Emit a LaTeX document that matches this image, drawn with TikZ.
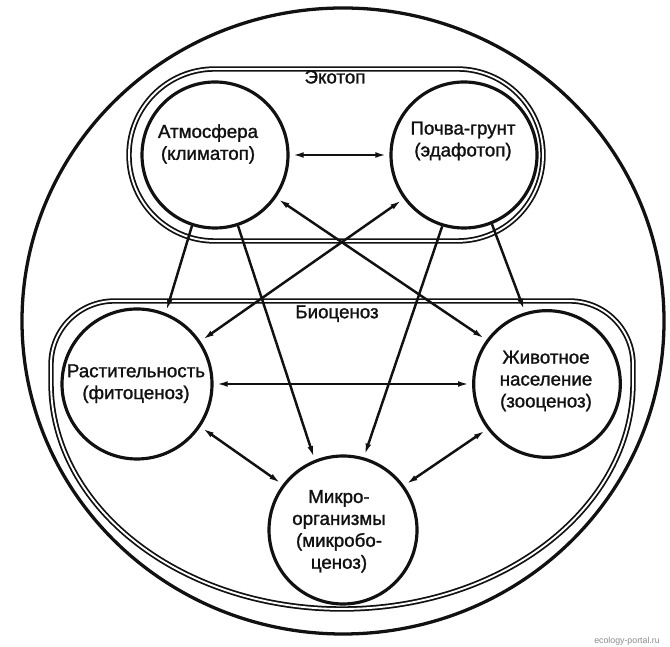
\documentclass[tikz,border=0pt]{standalone}
\usepackage{fontspec}
\setmainfont{Liberation Sans}
\newfontfamily\scanfont{Liberation Sans}[FakeBold=1.3]
\usepackage{tikz}
\usetikzlibrary{arrows.meta}
\definecolor{ink}{HTML}{111111}
\definecolor{stampgray}{HTML}{8A8A8A}
\tikzset{
  >={Latex[length=4.2mm,width=1.6mm]},
  every node/.style={text=ink},
  caption/.style={font=\scanfont\fontsize{16}{18.7}\selectfont,align=center,inner sep=0pt},
  part/.style={circle,draw=ink,line width=2.7pt,inner sep=0pt},
  zone/.style={draw=ink,line width=1.5pt,double=white,double distance=1.6pt},
  world/.style={draw=ink,line width=2.8pt},
  arrow/.style={->,line width=2.1pt,draw=ink},
  twoway/.style={<->,line width=2.1pt,draw=ink},
  stamp/.style={font=\fontsize{7.5}{8}\selectfont,text=stampgray,inner sep=0pt}
}
\begin{document}
\begin{tikzpicture}[x=1cm,y=1cm]
  \useasboundingbox (0,0) rectangle (20.1,19.41);
  \draw[world] (10.29,9.78) ellipse[x radius=9.63, y radius=9.39];

  % ekotop and biocenosis outlines
  \draw[zone,rounded corners=2.57cm] (3.87,12.18) rectangle (16.29,17.34);
  \draw[zone] (1.53,7.92) -- (1.53,8.48) arc[start angle=180,end angle=90,radius=1.9]
    -- (17.09,10.38) arc[start angle=90,end angle=0,radius=1.9]
    -- (18.99,7.92) arc[start angle=0,end angle=-180,x radius=8.73,y radius=6.78] -- cycle;
  \node[caption] (ekotop) at (10.05,17.1) {Экотоп};
  \node[caption] (biocen) at (10.11,10.0) {Биоценоз};

  % components
  \node[part,minimum size=4.38cm] (atm) at (6.45,14.76) {};
  \node[part,minimum size=4.38cm] (pch) at (13.92,14.76) {};
  \node[part,minimum size=4.5cm] (rst) at (4.11,7.89) {};
  \node[part,minimum size=4.4cm] (zoo) at (16.41,7.89) {};
  \node[part,minimum size=4.44cm] (mik) at (10.29,3.51) {};

  \node[caption] (atmtext) at (6.24,15.09) {Атмосфера\\(климатоп)};
  \node[caption] (pchtext) at (13.89,15.18) {Почва-грунт\\(эдафотоп)};
  \node[caption] (rsttext) at (4.08,7.90) {Растительность\\(фитоценоз)};
  \node[caption] (zootext) at (16.38,7.98) {Животное\\население\\(зооценоз)};
  \node[caption] (miktext) at (10.17,3.47) {Микро-\\организмы\\(микробо-\\ценоз)};

  \draw[twoway] (atm) -- (pch);
  \draw[arrow] (atm.252) -- (rst.68);
  \draw[arrow] (atm.-72) -- (mik.112);
  \draw[twoway] (atm.-35) -- (zoo.144);
  \draw[twoway] (pch.216) -- (rst.34);
  \draw[arrow] (pch.253) -- (mik.74);
  \draw[arrow] (pch.-68) -- (zoo.107);
  \draw[twoway] (rst) -- (zoo);
  \draw[twoway] (rst.-34) -- (mik.143);
  \draw[twoway] (zoo.217) -- (mik.36);

  \node[stamp] (site) at (18.81,0.17) {ecology-portal.ru};
\end{tikzpicture}
\end{document}
